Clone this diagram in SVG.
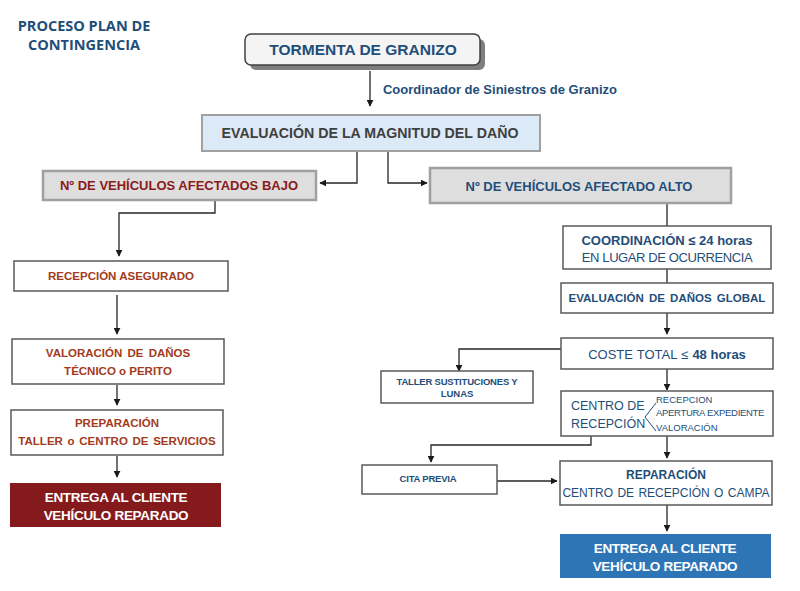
<svg xmlns="http://www.w3.org/2000/svg" width="800" height="591" viewBox="0 0 800 591">
<defs>
<marker id="ah" viewBox="0 0 10 10" refX="9" refY="5" markerWidth="7" markerHeight="7" markerUnits="userSpaceOnUse" orient="auto">
<path d="M0,0 L10,5 L0,10 z" fill="#1a1a1a"/>
</marker>
<style>
text{font-family:"Liberation Sans",Arial,sans-serif;font-weight:bold;text-anchor:middle}
.box{fill:#fff;stroke:#595959;stroke-width:1.5}
.gbox{fill:#dedede;stroke:#a0a0a0;stroke-width:2.5}
.blue{fill:#1f4e79}
.red{fill:#8b1a1a}
.brown{fill:#a33b1c}
.wh{fill:#fff}
.con{fill:none;stroke:#262626;stroke-width:1.3}
.arr{marker-end:url(#ah)}
</style>
</defs>
<rect width="800" height="591" fill="#fff"/>

<g id="title">
<text x="84" y="31" class="blue" font-size="14.5" style="font-family:'Open Sans','Liberation Sans',sans-serif">PROCESO PLAN DE</text>
<text x="84" y="50" class="blue" font-size="14.5" style="font-family:'Open Sans','Liberation Sans',sans-serif">CONTINGENCIA</text>
</g>

<g id="connectors">
<line class="con arr" x1="370" y1="71" x2="370" y2="106"/>
<path class="con arr" d="M357,152 V183 H320"/>
<path class="con arr" d="M388,152 V183 H427"/>
<path class="con arr" d="M215,200 V213 H119 V256"/>
<line class="con arr" x1="117" y1="295" x2="117" y2="334"/>
<line class="con arr" x1="117" y1="385" x2="117" y2="405"/>
<line class="con arr" x1="117" y1="456" x2="117" y2="477"/>
<line class="con" x1="667" y1="204" x2="667" y2="226"/>
<line class="con" x1="667" y1="269" x2="667" y2="283"/>
<line class="con arr" x1="667" y1="313" x2="667" y2="334"/>
<path class="con arr" d="M561,349 H459 V371"/>
<line class="con arr" x1="667" y1="369" x2="667" y2="390"/>
<path class="con arr" d="M591,436 V445 H431 V462"/>
<line class="con arr" x1="667" y1="436" x2="667" y2="458"/>
<line class="con arr" x1="497" y1="481" x2="557" y2="481"/>
<line class="con arr" x1="667" y1="505" x2="667" y2="531"/>
</g>

<g id="label-coordinador">
<text x="500" y="94" class="blue" font-size="13">Coordinador de Siniestros de Granizo</text>
</g>

<g id="tormenta">
<rect x="250" y="39" width="235" height="31" rx="6" fill="#7f7f7f"/>
<rect x="245" y="34" width="235" height="31" rx="6" fill="#f4f4f4" stroke="#404040" stroke-width="1.5"/>
<text x="363" y="55" class="blue" font-size="15.5">TORMENTA DE GRANIZO</text>
</g>

<g id="evaluacion">
<rect x="202" y="115" width="338" height="36" fill="#dce9f6" stroke="#a0a0a0" stroke-width="2"/>
<text x="370" y="138" fill="#404040" font-size="14.2">EVALUACIÓN DE LA MAGNITUD DEL DAÑO</text>
</g>

<g id="bajo">
<rect class="gbox" x="43" y="171" width="273" height="29"/>
<text x="179" y="190" class="red" font-size="13">Nº DE VEHÍCULOS AFECTADOS BAJO</text>
</g>

<g id="alto">
<rect class="gbox" x="430" y="168" width="301" height="35"/>
<text x="579" y="191" class="blue" font-size="13">Nº DE VEHÍCULOS AFECTADO ALTO</text>
</g>

<g id="recepcion-asegurado">
<rect class="box" x="14" y="261" width="214" height="30"/>
<text x="121" y="280" class="brown" font-size="11.5">RECEPCIÓN ASEGURADO</text>
</g>

<g id="valoracion">
<rect class="box" x="12" y="339" width="212" height="45"/>
<text x="118" y="357" class="brown" font-size="11.5" word-spacing="2">VALORACIÓN DE DAÑOS</text>
<text x="118" y="375" class="brown" font-size="11.5">TÉCNICO o PERITO</text>
</g>

<g id="preparacion">
<rect class="box" x="11" y="410" width="212" height="45"/>
<text x="117" y="427" class="brown" font-size="11.5">PREPARACIÓN</text>
<text x="117" y="445" class="brown" font-size="11.5" word-spacing="1.5">TALLER o CENTRO DE SERVICIOS</text>
</g>

<g id="entrega-rojo">
<rect x="10" y="483" width="211" height="44" fill="#841a1c"/>
<text x="116" y="502" class="wh" font-size="13.5" letter-spacing="-0.3">ENTREGA AL CLIENTE</text>
<text x="116" y="520" class="wh" font-size="13.5" letter-spacing="-0.3">VEHÍCULO REPARADO</text>
</g>

<g id="coordinacion">
<rect class="box" x="563" y="226" width="208" height="43"/>
<text x="667" y="245" class="blue" font-size="13">COORDINACIÓN ≤ 24 horas</text>
<text x="667" y="262" class="blue" font-size="13" style="font-weight:normal" letter-spacing="-0.4">EN LUGAR DE OCURRENCIA</text>
</g>

<g id="evaluacion-global">
<rect class="box" x="561" y="283" width="212" height="30"/>
<text x="667" y="302" class="blue" font-size="11.5" word-spacing="2">EVALUACIÓN DE DAÑOS GLOBAL</text>
</g>

<g id="coste">
<rect class="box" x="561" y="338" width="212" height="31"/>
<text x="667" y="359" class="blue" font-size="13"><tspan style="font-weight:normal" word-spacing="0.5">COSTE TOTAL ≤ </tspan><tspan>48 horas</tspan></text>
</g>

<g id="taller">
<rect class="box" x="381" y="371" width="152" height="32"/>
<text x="457" y="385" class="blue" font-size="9.5" letter-spacing="-0.2">TALLER SUSTITUCIONES Y</text>
<text x="457" y="397" class="blue" font-size="9.5">LUNAS</text>
</g>

<g id="centro-recepcion">
<rect class="box" x="561" y="391" width="212" height="45"/>
<text x="571" y="410" class="blue" font-size="12.5" style="text-anchor:start;font-weight:normal">CENTRO DE</text>
<text x="571" y="428" class="blue" font-size="12.5" style="text-anchor:start;font-weight:normal">RECEPCIÓN</text>
<path d="M656,403 L645,417 L656,431" fill="none" stroke="#1f4e79" stroke-width="1"/>
<text x="656" y="403" class="blue" font-size="9.5" style="text-anchor:start;font-weight:normal">RECEPCION</text>
<text x="656" y="416" class="blue" font-size="9.5" style="text-anchor:start;font-weight:normal" letter-spacing="-0.3">APERTURA EXPEDIENTE</text>
<text x="656" y="431" class="blue" font-size="9.5" style="text-anchor:start;font-weight:normal">VALORACIÓN</text>
</g>

<g id="cita-previa">
<rect class="box" x="362" y="465" width="135" height="29"/>
<text x="428" y="482" class="blue" font-size="9.5" letter-spacing="-0.2">CITA PREVIA</text>
</g>

<g id="reparacion">
<rect class="box" x="560" y="461" width="212" height="44"/>
<text x="666" y="479" class="blue" font-size="12">REPARACIÓN</text>
<text x="666" y="497" class="blue" font-size="12" style="font-weight:normal" word-spacing="1">CENTRO DE RECEPCIÓN O CAMPA</text>
</g>

<g id="entrega-azul">
<rect x="560" y="534" width="211" height="44" fill="#2e75b6"/>
<text x="665" y="553" class="wh" font-size="13.5" letter-spacing="-0.3">ENTREGA AL CLIENTE</text>
<text x="665" y="571" class="wh" font-size="13.5" letter-spacing="-0.3">VEHÍCULO REPARADO</text>
</g>
</svg>
